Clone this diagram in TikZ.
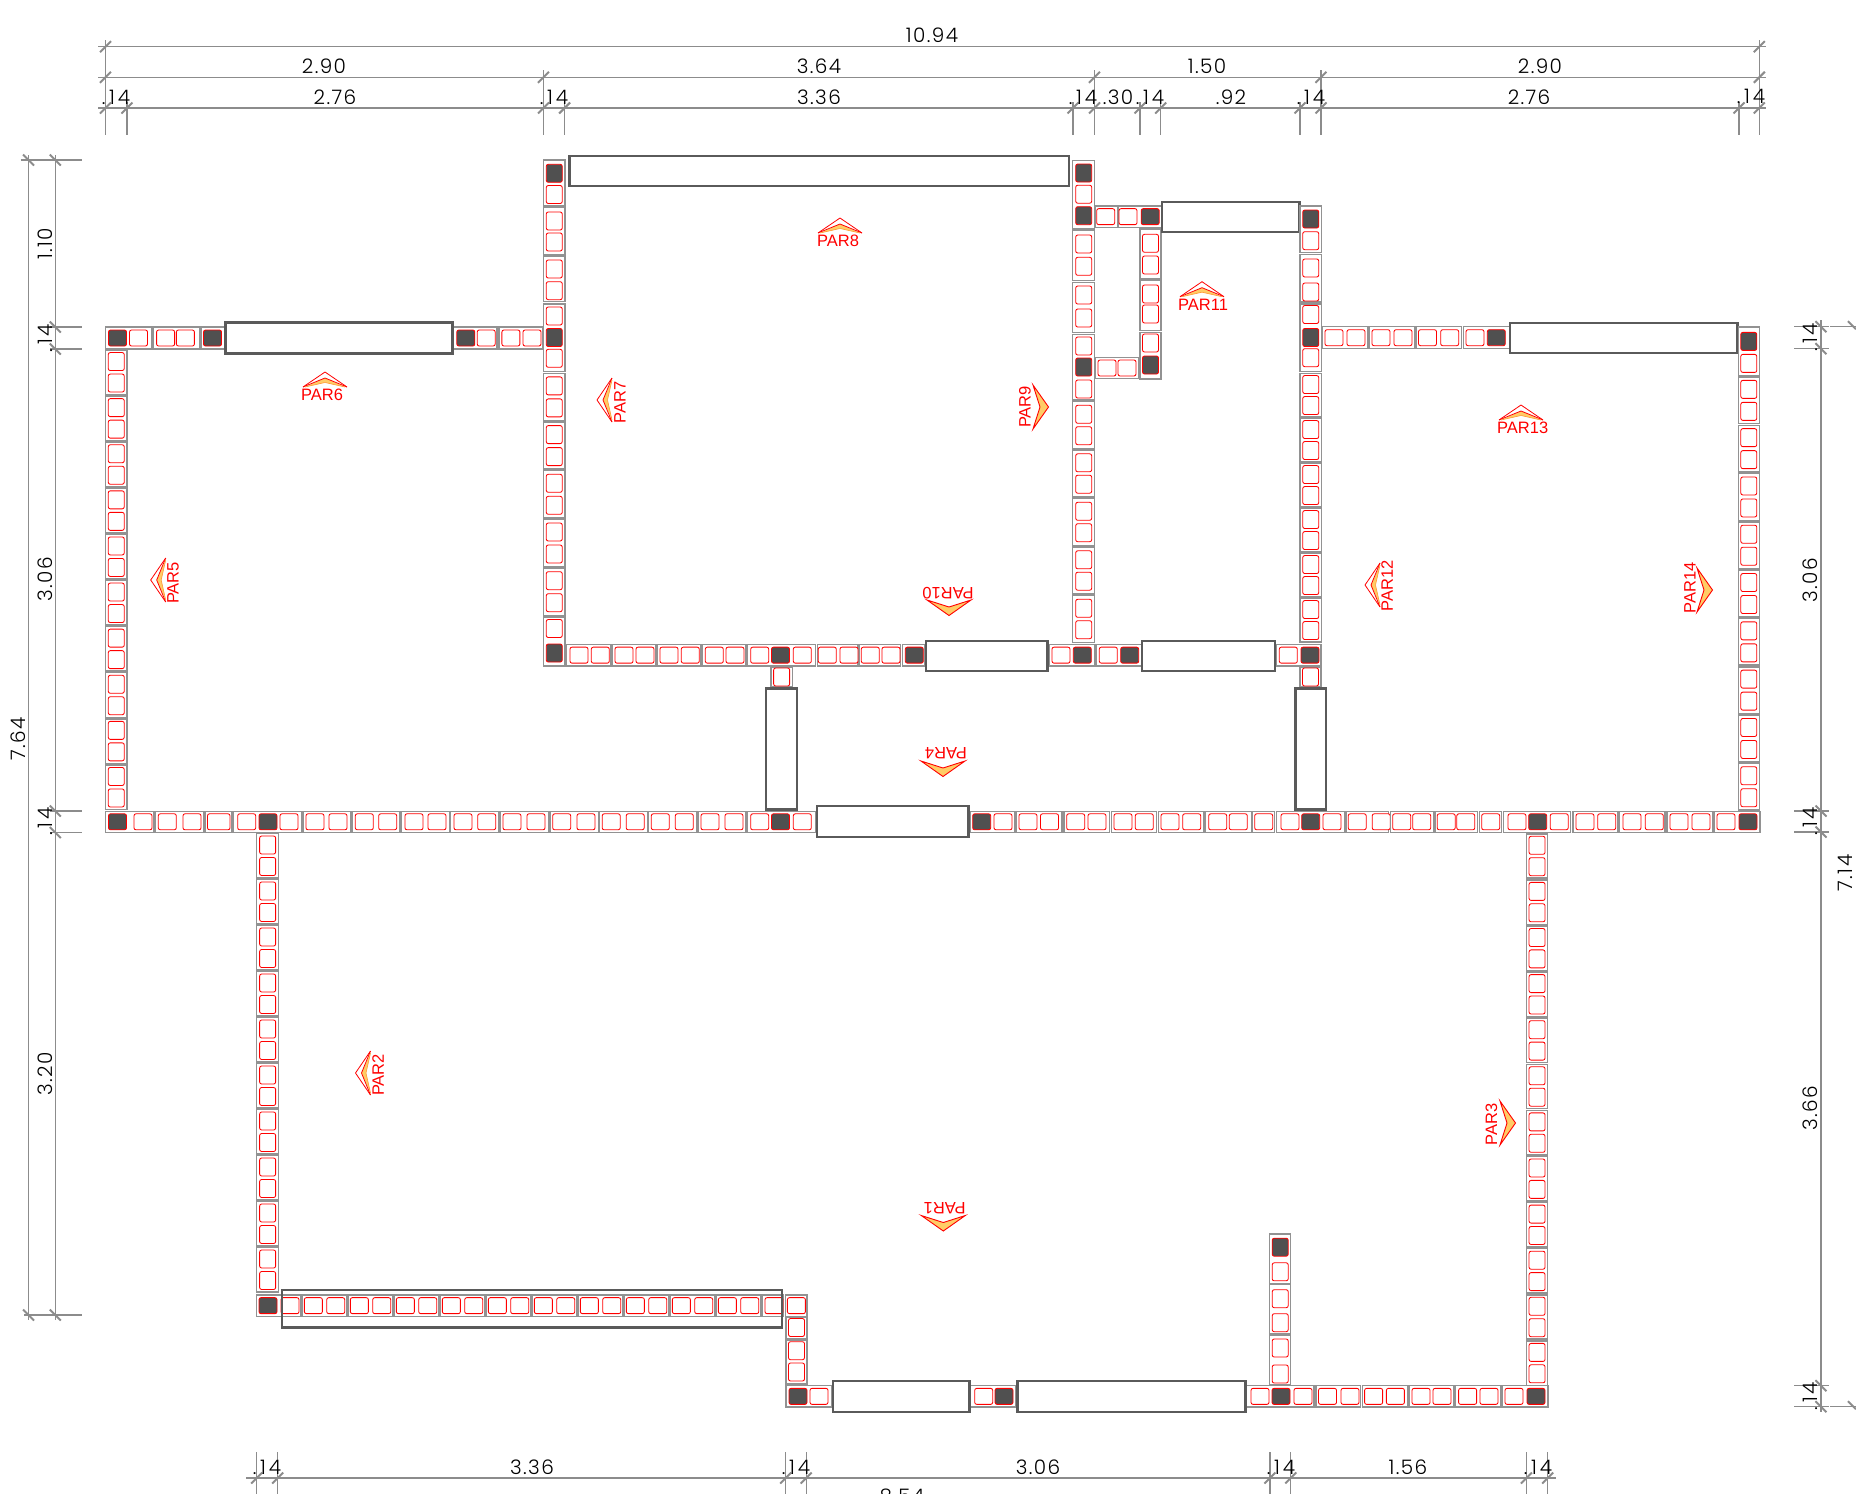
\documentclass[tikz,border=0pt]{standalone}
\usepackage{fontspec}
\setmainfont{Poppins}
\newfontfamily\dimf[LetterSpace=7]{Poppins Light}
\newfontfamily\parfont{Liberation Sans}
\definecolor{h}{HTML}{FFFFFF}
\definecolor{d}{HTML}{505050}
\definecolor{blkgray}{HTML}{929292}
\definecolor{wingray}{HTML}{5A5A5A}
\definecolor{dimgray}{HTML}{8C8C8C}
\definecolor{parfill}{HTML}{FFCC66}
\definecolor{parband}{HTML}{FF9933}
\newcommand\pft{.\kern3.5pt1\kern3pt4}
\tikzset{
 blk/.style={draw=blkgray,line width=1.5pt},
 hol/.style={draw=red,line width=0.85pt,rounded corners=2pt},
 win/.style={draw=wingray,line width=2.4pt,fill=white},
 winopen/.style={draw=wingray,line width=2.4pt},
 dimline/.style={draw=dimgray,line width=1.2pt},
 tick/.style={draw=dimgray,line width=2pt},
 dimtxt/.style={inner sep=0pt,font=\dimf\fontsize{20}{22}\selectfont,text=black},
 partxt/.style={inner sep=0pt,text=red,font=\parfont\fontsize{16.5}{18}\selectfont},
 chev/.style={draw=red,line width=0.9pt,line join=miter,fill=parfill},
}
% horizontal wall: y0,y1,{x0/x1/{c/type,...},...}
\newcommand\HW[3]{\foreach \xa/\xb/\hl in {#3}{%
  \draw[blk](\xa,#1) rectangle (\xb,#2);
  \foreach \cc/\ty in \hl {\draw[hol,fill=\ty] ({\cc-9},{(#1+#2)/2-8}) rectangle ({\cc+9},{(#1+#2)/2+8});}
 }}
% vertical wall: x0,x1,{y0/y1/{c/type,...},...}
\newcommand\VW[3]{\foreach \xa/\xb/\hl in {#3}{%
  \draw[blk](#1,\xa) rectangle (#2,\xb);
  \foreach \cc/\ty in \hl {\draw[hol,fill=\ty] ({(#1+#2)/2-8},{\cc-9}) rectangle ({(#1+#2)/2+8},{\cc+9});}
 }}
% uniform vertical run: x0,x1,ystart,pitch,blockheight,n,offset
\newcommand\VU[7]{\foreach \ii in {1,...,#6}{%
  \pgfmathsetmacro\ya{#3+(\ii-1)*#4}\pgfmathsetmacro\yb{\ya+#5}\pgfmathsetmacro\ym{\ya+#5/2}
  \draw[blk](#1,\ya) rectangle (#2,\yb);
  \draw[hol,fill=h] ({(#1+#2)/2-8},{\ym-#7-9}) rectangle ({(#1+#2)/2+8},{\ym-#7+9});
  \draw[hol,fill=h] ({(#1+#2)/2-8},{\ym+#7-9}) rectangle ({(#1+#2)/2+8},{\ym+#7+9});
 }}
% uniform horizontal run: y0,y1,xstart,pitch,blockwidth,n,offset
\newcommand\HU[7]{\foreach \ii in {1,...,#6}{%
  \pgfmathsetmacro\ya{#3+(\ii-1)*#4}\pgfmathsetmacro\yb{\ya+#5}\pgfmathsetmacro\ym{\ya+#5/2}
  \draw[blk](\ya,#1) rectangle (\yb,#2);
  \draw[hol,fill=h] ({\ym-#7-9},{(#1+#2)/2-8}) rectangle ({\ym-#7+9},{(#1+#2)/2+8});
  \draw[hol,fill=h] ({\ym+#7-9},{(#1+#2)/2-8}) rectangle ({\ym+#7+9},{(#1+#2)/2+8});
 }}
% section marks: x,y,rotation
\newcommand\parB[3]{\begin{scope}[shift={(#1,#2)},rotate=#3]
  \fill[parfill] (-20,0)--(0,-9)--(20,0)--(0,-4.5)--cycle;
  \draw[draw=red,line width=0.8pt,line join=miter] (-22,0)--(0,-15)--(22,0);
  \draw[draw=red,line width=0.8pt,line join=miter] (-22,0)--(0,-9)--(22,0);
  \draw[draw=parband,line width=0.6pt,line join=miter] (-20,0)--(0,-4.5)--(20,0);
 \end{scope}}
\newcommand\parA[3]{\begin{scope}[shift={(#1,#2)},rotate=#3]
  \draw[chev] (-22,0)--(0,15.5)--(22,0)--(0,7)--cycle;
 \end{scope}}
% dimension helpers
\newcommand\DT[5]{\node[dimtxt,rotate=#4] (#1) at (#2,#3) {#5};}
\newcommand\PT[5]{\node[partxt,rotate=#4] (#1) at (#2,#3) {#5};}
\begin{document}
\begin{tikzpicture}[x=1pt,y=-1pt]
\useasboundingbox (0,0) rectangle (1856,1494);
\clip (0,0) rectangle (1856,1494);
\fill[white] (0,0) rectangle (1856,1494);

%%% top dimensions
\draw[dimline] (98,46.7)--(1766,46.7);
\draw[dimline] (98,77.3)--(1766,77.3);
\draw[dimline] (98,108)--(1766,108);
\foreach \x in {105.5,1759.3} \draw[dimline] (\x,40)--(\x,135);
\foreach \x in {543.5,1094.5,1321} \draw[dimline] (\x,70)--(\x,135);
\foreach \x in {127,564.6,1073,1140,1160.7,1300,1739} \draw[dimline] (\x,102)--(\x,135);
\foreach \x in {105.5,1759.3} \draw[tick] ({\x-5.5},{46.7+5.5})--({\x+5.5},{46.7-5.5});
\foreach \x in {105.5,543.5,1094.5,1321,1759.3} \draw[tick] ({\x-5.5},{77.3+5.5})--({\x+5.5},{77.3-5.5});
\foreach \x in {105.5,127,543.5,564.6,1073,1094.5,1140,1160.7,1300,1321,1739,1759.3} \draw[tick] ({\x-5.5},{108+5.5})--({\x+5.5},{108-5.5});
\DT{a1}{932}{35.5}{0}{10.94}
\DT{a2}{324}{66.5}{0}{2.90}
\DT{a3}{819}{66.5}{0}{3.64}
\DT{a4}{1207}{66.5}{0}{1.50}
\DT{a5}{1540}{66.5}{0}{2.90}
\DT{b1}{116}{97}{0}{\pft}
\DT{b2}{335}{97}{0}{2.76}
\DT{b3}{554}{97}{0}{\pft}
\DT{b4}{819}{97}{0}{3.36}
\DT{b5}{1083}{97}{0}{\pft}
\DT{b6}{1118}{97}{0}{.30}
\DT{b7}{1150}{97}{0}{\pft}
\DT{b8}{1231}{97}{0}{.92}
\DT{b9}{1311}{97}{0}{\pft}
\DT{b10}{1529}{97}{0}{2.76}
\DT{b11}{1751}{96}{0}{\pft}

%%% left dimensions
\draw[dimline] (28.5,155)--(28.5,1320);
\draw[dimline] (55.3,155)--(55.3,1320);
\draw[dimline] (20.5,160)--(82,160);
\draw[dimline] (24,1315)--(82,1315);
\foreach \y in {327,349,811,832.5} \draw[dimline] (50,\y)--(82,\y);
\foreach \y in {160,1315} \draw[tick] (23,{\y-5.5})--(34,{\y+5.5});
\foreach \y in {160,327,349,811,832.5,1315} \draw[tick] (49.8,{\y-5.5})--(60.8,{\y+5.5});
\DT{c1}{45}{244}{90}{1.10}
\DT{c2}{45}{338}{90}{\pft}
\DT{c3}{45}{579}{90}{3.06}
\DT{c4}{45}{821.5}{90}{\pft}
\DT{c5}{45}{1074}{90}{3.20}
\DT{c6}{18}{739}{90}{7.64}

%%% right dimensions
\draw[dimline] (1821,320)--(1821,1412);
\foreach \y in {326.7,348.7,811,832,1385.7,1406.7} {\draw[dimline] (1794,\y)--(1829,\y);
  \draw[tick] (1815.5,{\y-5.5})--(1826.5,{\y+5.5});}
\foreach \y in {326.7,1406.7} {\draw[dimline] (1830,\y)--(1856,\y);
  \draw[tick] (1848,{\y-5.5})--(1856,{\y+2.5});}
\DT{d1}{1810}{337}{90}{\pft}
\DT{d2}{1810}{580}{90}{3.06}
\DT{d3}{1810}{821}{90}{\pft}
\DT{d4}{1810}{1108}{90}{3.66}
\DT{d5}{1810}{1396}{90}{\pft}
\DT{d6}{1845}{873}{90}{7.14}

%%% bottom dimensions
\draw[dimline] (246,1478)--(1556,1478);
\foreach \x in {256.7,277.7,785.7,806.2,1269.9,1290.8,1526.4,1547.7} {\draw[dimline] (\x,1452)--(\x,1494);
  \draw[tick] ({\x-5.5},{1478+5.5})--({\x+5.5},{1478-5.5});}
\DT{e1}{267}{1467.5}{0}{\pft}
\DT{e2}{532}{1467.5}{0}{3.36}
\DT{e3}{796}{1467.5}{0}{\pft}
\DT{e4}{1038}{1467.5}{0}{3.06}
\DT{e5}{1281}{1467.5}{0}{\pft}
\DT{e6}{1408}{1467.5}{0}{1.56}
\DT{e7}{1538}{1467.5}{0}{\pft}
\DT{e8}{902}{1496}{0}{8.54}

%%% upper left row
\HW{327}{349}{105.5/151.8/{117.5/d,138.5/h},153/200/{165.6/h,185.4/h},201/224.5/{212.5/d},453.7/497/{465.8/d,486.2/h},498.8/542.3/{510.9/h,532/h}}
\draw[win] (225.3,322.3) rectangle (452.6,353.3);
\VU{105.5}{127}{350}{46.1}{44.6}{10}{10.75}

%%% wall at x 544
\VW{543.5}{565}{160/206/{173.3/d,194.5/h},207.3/254.3/{221/h,242/h},256/301.7/{269/h,290.7/h},304/371.7/{316/h,337.5/d,358.3/h},616.8/666/{628.5/h,653/d}}
\VU{543.5}{565}{373.3}{48.7}{47.2}{5}{11}
\draw[win] (569.4,155.7) rectangle (1069,186);

%%% wall at x 1073
\VW{1072.7}{1094.7}{160.7/229/{173/d,194.2/h,215.7/d},230.7/280.7/{244/h,266.3/h},282.3/332.3/{295/h,318/h},334.3/400/{346/h,367/d,389/h}}
\VU{1072.7}{1094.7}{401.5}{48.5}{47}{5}{10.7}
\HW{206}{227.3}{1095.7/1117.3/{1105.7/h},1118.7/1161.3/{1128/h,1150.2/d}}
\VW{1140}{1161}{229/279/{243.3/h,265/h},280.7/330.7/{294/h,314/h},332.3/379/{343/h,365/d}}
\HW{357.3}{378.7}{1095.7/1138.3/{1107/h,1127/h}}
\draw[win] (1162,201.7) rectangle (1299.3,232);

%%% wall at x 1300
\VW{1300}{1321.5}{206/252.7/{219/d,240.7/h},254.3/302/{268/h,292/h},304/371.3/{314.5/h,337.5/d,357.7/h}}
\VU{1300}{1321.5}{373.3}{45}{43.5}{6}{10.5}
\HW{326.7}{348.7}{1322.7/1368/{1334/h,1356/h},1369.7/1415/{1381/h,1403/h},1416.3/1461.7/{1427.5/h,1449.7/h},1463.3/1509.3/{1475/h,1496.3/d}}
\draw[win] (1510,322.7) rectangle (1737.3,352.7);

%%% right wall
\VW{1738.3}{1759.3}{326.8/375.4/{341.4/d,363.4/h}}
\VU{1738.3}{1759.3}{377}{48.3}{46.7}{9}{11}

%%% middle row
\HW{644.3}{666}{566.7/611/{579/h,600.3/h},612/655.7/{624/h,645/h},657/700.7/{669/h,690.3/h},702/746/{714.3/h,735/h},747.3/815.3/{759.7/h,780.5/d,802.3/h},817.3/858/{827.3/h,849/h},859.7/900.7/{870.3/h,891/h},902.3/924.7/{914.3/d},1049.3/1094.7/{1061/h,1082.3/d},1096/1141.3/{1108.3/h,1129.7/d},1276/1321/{1288.3/h,1310/d}}
\draw[win] (926,640.7) rectangle (1047.5,670.7);
\draw[win] (1142,640.7) rectangle (1274.7,670.7);
\VW{771}{792.3}{667/686.7/{677/h}}
\VW{1300}{1321}{667/686.7/{677/h}}
\draw[win] (766,688.3) rectangle (796.7,809.3);
\draw[win] (1295.3,688.3) rectangle (1325.7,809.3);

%%% main row
\HW{811.3}{832.3}{105.3/154/{117.5/d,143/h},155/204/{167.3/h,192/h},233.3/302/{246.7/h,268/d,289/h},303.3/351/{315/h,338/h},352.3/400/{364.3/h,387.7/h},401.3/449.3/{414/h,437/h},450.7/498.7/{463/h,486.7/h},500/548.3/{512/h,536/h},550/598.3/{561.7/h,586/h},599.3/647.3/{611.2/h,635.2/h},648.7/696.7/{660.3/h,684.3/h},698/746/{710/h,734/h},747.3/816/{759.7/h,780.5/d,802.3/h},970/1015/{981.7/d,1003/h},1016.7/1062/{1028/h,1049.5/h},1064/1109.3/{1075.7/h,1097/h},1111.3/1156.7/{1123/h,1144.3/h},1158.7/1204/{1170/h,1191.7/h},1205.7/1251.3/{1217.7/h,1238.3/h},1252.7/1274.7/{1263.7/h},1276.7/1345/{1290/h,1310.7/d,1332/h},1346.7/1388.7/{1357.2/h,1381.2/h},1390.7/1433.3/{1401.7/h,1421.7/h},1435/1477.3/{1446.2/h,1465.8/h},1479.3/1501.7/{1490.7/h},1503.3/1570.7/{1517/h,1537.7/d,1559.2/h},1573/1618/{1585/h,1606.7/h},1619.7/1665/{1632/h,1654.3/h},1667/1712.7/{1679/h,1701/h},1714/1760/{1726/h,1748/d}}
\draw[blk] (205.3,811.3) rectangle (232,832.3);
\draw[hol,fill=h] (207.5,813.8) rectangle (230,829.8);
\draw[win] (816.7,806) rectangle (968.3,836.7);

%%% lower left
\VU{256.7}{278.6}{833.5}{46}{44.5}{10}{10.75}
\HW{1295}{1316.3}{256.7/300.4/{268/d,290/h},762.5/783.5/{774/h},785.7/807/{796.4/h}}
\HU{1295}{1316.3}{302.2}{46}{44.7}{10}{11.2}
\draw[winopen] (282,1290) rectangle (781.7,1327.3);
\VW{786}{807}{1317.7/1338.3/{1327.5/h},1340/1384/{1350.7/h,1372/h}}

%%% bottom row
\HW{1385.7}{1407}{786/831.3/{798/d,819/h},970/1016/{983.7/h,1004/d},1245.2/1313.8/{1260/h,1281/d,1303/h},1316/1360.7/{1327.5/h,1350/h},1362.3/1407.5/{1373.6/h,1395.4/h},1409/1454/{1421/h,1442/h},1455.6/1501/{1467.6/h,1489/h},1502.5/1548/{1514/h,1536/d}}
\draw[win] (832.7,1381) rectangle (969.3,1411.7);
\draw[win] (1017.3,1381) rectangle (1245.3,1411.7);
\VW{1269.7}{1290.7}{1234/1283.3/{1247.2/d,1271.8/h},1284.7/1334/{1298.7/h,1322.7/h},1335.3/1385/{1348/h,1374/h}}
\VU{1526.4}{1547.7}{833.8}{46.1}{44.4}{12}{10.7}

%%% section marks
\parB{325}{387}{0}\PT{p6}{322}{394.5}{0}{PAR6}
\parB{840}{233}{0}\PT{p8}{838}{241}{0}{PAR8}
\parB{1202}{296.7}{0}\PT{p11}{1203}{305}{0}{PAR11}
\parB{1521}{420}{0}\PT{p13}{1522.7}{428}{0}{PAR13}
\parA{943}{761}{0}\PT{p4}{946}{753.3}{180}{PAR4}
\parA{949}{600}{0}\PT{p10}{948}{593.5}{180}{PAR10}
\parA{943.3}{1215.5}{0}\PT{p1}{944.6}{1208.5}{180}{PAR1}
\parB{165.7}{580}{90}\PT{p5}{173}{583}{90}{PAR5}
\parB{612}{400}{90}\PT{p7}{620}{402.5}{90}{PAR7}
\parB{1380}{585}{90}\PT{p12}{1387}{586}{90}{PAR12}
\parB{370.5}{1073}{90}\PT{p2}{378}{1075}{90}{PAR2}
\parA{1033}{407}{90}\PT{p9}{1025}{407}{90}{PAR9}
\parA{1697}{590}{90}\PT{p14}{1690}{588}{90}{PAR14}
\parA{1500}{1123}{90}\PT{p3}{1491.5}{1124.5}{90}{PAR3}
\end{tikzpicture}
\end{document}
